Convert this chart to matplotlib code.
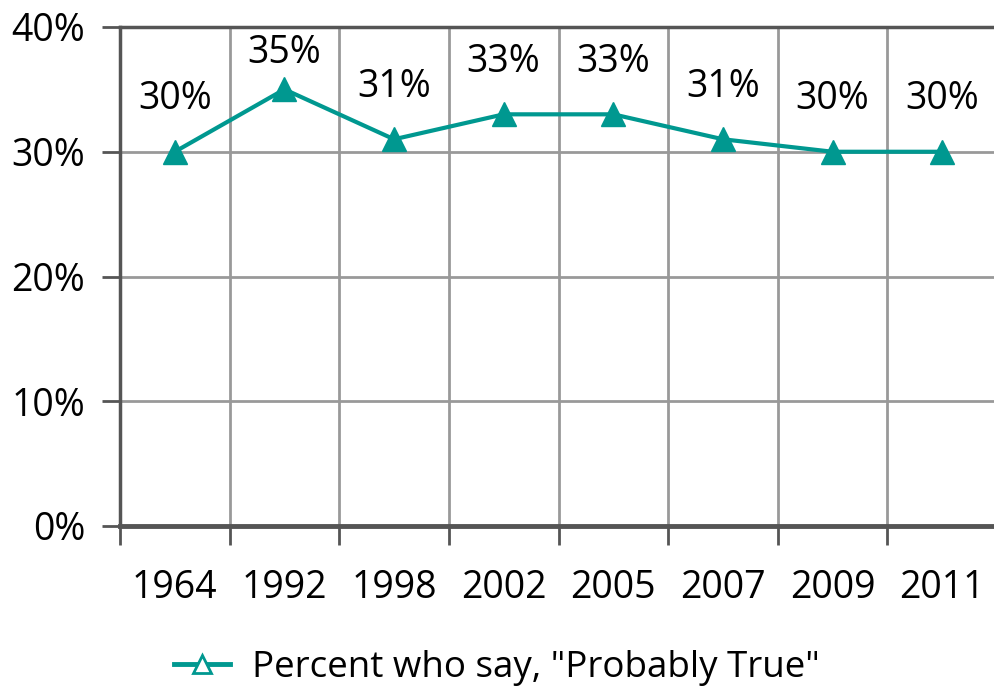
import matplotlib.pyplot as plt
import numpy as np
from matplotlib.lines import Line2D

plt.rcParams['font.family'] = ['Open Sans', 'DejaVu Sans']

years = ["1964", "1992", "1998", "2002", "2005", "2007", "2009", "2011"]
values = [30, 35, 31, 33, 33, 31, 30, 30]
labels = ["30%", "35%", "31%", "33%", "33%", "31%", "30%", "30%"]

teal = "#009890"
fs = 27

fig = plt.figure(figsize=(9.94, 6.9), dpi=100)
ax = fig.add_axes([120 / 994, 1 - 526 / 690, 877 / 994, 499 / 690])

x = np.arange(len(years))
ax.plot(x, values, color=teal, lw=3, marker="^", ms=17, zorder=3, clip_on=False)

# labels sit above the points but are kept inside the plot area
for xi, v, lab in zip(x, values, labels):
    ly = min(v + 4.2, 37.9)
    ax.text(xi, ly, lab, ha="center", va="center", fontsize=fs)

ax.set_xlim(-0.5, len(years) - 0.5)
ax.set_ylim(0, 40)

# gridlines at category boundaries
ax.set_xticks(np.arange(-0.5, len(years), 1.0))
ax.set_xticklabels([])
ax.set_xticks(x, minor=True)
ax.set_xticklabels(years, minor=True, fontsize=fs)
ax.tick_params(axis="x", which="minor", length=0, pad=31)
ax.tick_params(axis="x", which="major", length=14, width=2, color="#555555")

ax.set_yticks([0, 10, 20, 30, 40])
ax.set_yticklabels(["0%", "10%", "20%", "30%", "40%"], fontsize=fs)
ax.tick_params(axis="y", length=13, width=2, color="#555555", pad=12)

ax.grid(True, axis="x", which="major", color="#999999", lw=2)
ax.grid(True, axis="y", color="#999999", lw=2)
ax.set_axisbelow(True)

ax.spines["right"].set_visible(False)
ax.spines["top"].set_color("#555555")
ax.spines["top"].set_linewidth(2.5)
ax.spines["left"].set_color("#555555")
ax.spines["left"].set_linewidth(2.5)
ax.spines["bottom"].set_color("#555555")
ax.spines["bottom"].set_linewidth(3.5)

handle = Line2D([], [], color=teal, lw=3.5, marker="^", ms=13,
                markerfacecolor="white", markeredgecolor=teal, markeredgewidth=2)
fig.legend([handle], ['Percent who say, "Probably True"'], loc="center",
           bbox_to_anchor=(0.5, 1 - 668 / 690), frameon=False, fontsize=26.5,
           handlelength=1.5, handletextpad=0.6)

fig.savefig("out.png", dpi=100)
